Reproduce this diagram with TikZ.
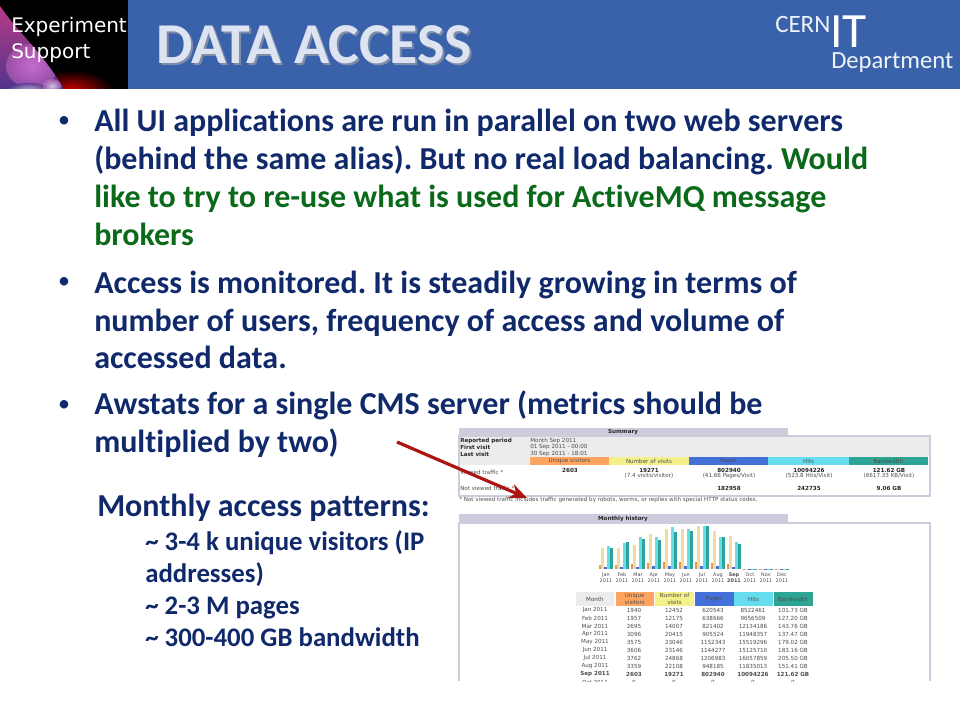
\documentclass[tikz,border=0pt]{standalone}
\usepackage{fontspec}
\setmainfont[Ligatures=NoCommon]{Carlito}
\newfontfamily\webfont{DejaVu Sans}
\newfontfamily\tagfont{DejaVu Sans}
\usepackage{tikz}
\usetikzlibrary{calc,arrows.meta}
\definecolor{headblue}{HTML}{3A62AB}
\definecolor{bodynavy}{HTML}{10296B}
\definecolor{bodygreen}{HTML}{0B6A1A}
\definecolor{arrowred}{HTML}{AD1414}
\definecolor{titlefill}{HTML}{DDE3F0}
\definecolor{titleshade}{HTML}{7F8CA8}
\definecolor{awborder}{HTML}{CCCCDD}
\definecolor{awgray}{HTML}{ECECEC}
\definecolor{awu}{HTML}{FFA560}
\definecolor{awv}{HTML}{F4F08C}
\definecolor{awp}{HTML}{4470DA}
\definecolor{awh}{HTML}{66DDEE}
\definecolor{awk}{HTML}{2EA495}
\definecolor{barv}{HTML}{EFDF9C}
\definecolor{glowtop}{HTML}{B83A86}
\definecolor{glowmid}{HTML}{B860B8}
\definecolor{glowlow}{HTML}{50358C}
\newcommand{\webfs}{\fontsize{4.2}{5}\selectfont}
\newcommand{\barfs}{\fontsize{3.7}{5}\selectfont}
\tikzset{
  bodyline/.style={anchor=base west,inner sep=0pt,text=bodynavy,font=\bfseries\fontsize{24}{28}\selectfont},
  bodybullet/.style={anchor=base,inner sep=0pt,text=bodynavy,font=\fontsize{18}{24}\selectfont},
  subline/.style={anchor=base west,inner sep=0pt,text=bodynavy,font=\bfseries\fontsize{20.1}{24}\selectfont},
  webtext/.style={inner sep=0pt,text=black!70,font=\webfont\webfs},
  webbold/.style={webtext,text=black!85,font=\webfont\bfseries\webfs},
}
\begin{document}
\frenchspacing
\begin{tikzpicture}[x=0.75pt,y=-0.75pt]
  \useasboundingbox (0,0) rectangle (960,720);
  % header band
  \fill[headblue] (0,0) rectangle (960,89);
  \fill[black] (0,0) rectangle (128,89);
  \begin{scope}
    \clip (0,0) rectangle (128,89);
    \shade[inner color=red!80!black,outer color=black] (72,90) ellipse (42 and 20);
    \shade[top color=glowtop,middle color=glowmid,bottom color=glowlow]
      (0,6) .. controls (16,30) and (42,52) .. (64,89) -- (0,89) -- cycle;
    \begin{scope}
      \clip (0,6) .. controls (16,30) and (42,52) .. (64,89) -- (0,89) -- cycle;
      \shade[inner color=magenta!45!white,outer color=glowmid,opacity=0.6] (32,66) ellipse (26 and 22);
    \end{scope}
    \shade[inner color=white,outer color=glowlow,opacity=0.75] (28,92) ellipse (24 and 9);
    \shade[inner color=white,outer color=glowmid,opacity=0.7] (52,86) ellipse (9 and 7);
  \end{scope}
  \node[anchor=base west,inner sep=0pt,text=white,font=\tagfont\fontsize{15}{18}\selectfont] (tagA) at (11,33) {Experiment};
  \node[anchor=base west,inner sep=0pt,text=white,font=\tagfont\fontsize{15}{18}\selectfont] (tagB) at (11,59) {Support};
  \node[anchor=base west,inner sep=0pt,text=titlefill,font=\bfseries\fontsize{43.4}{48}\selectfont] (title) at (156,64)
    {\rlap{\raisebox{-1.5pt}{\hspace{1.5pt}\textcolor{titleshade}{DATA ACCESS}}}DATA ACCESS};
  % logo
  \node[anchor=base west,inner sep=0pt,text=white!92!headblue,font=\fontsize{18.7}{20}\selectfont] (logoCern) at (775,33) {CERN};
  \node[anchor=base west,inner sep=0pt,text depth=0pt,text=white,font=\fontsize{37}{40}\selectfont] (logoIt) at (830,48) {IT};
  \node[anchor=base west,inner sep=0pt,text height=10pt,text=white!92!headblue,font=\fontsize{18.5}{20}\selectfont] (logoDept) at (831,69) {Department};
  % body
  \node[bodybullet] (dotA) at (64,128) {\textbullet};
  \node[bodyline] (lineA) at (94,132) {All UI applications are run in parallel on two web servers};
  \node[bodyline] (lineB) at (94,170) {(behind the same alias). But no real load balancing. \textcolor{bodygreen}{Would}};
  \node[bodyline,text=bodygreen] (lineC) at (94,208) {like to try to re-use what is used for ActiveMQ message};
  \node[bodyline,text=bodygreen] (lineD) at (94,246) {brokers};
  \node[bodybullet] (dotB) at (64,289) {\textbullet};
  \node[bodyline] (lineE) at (94,293) {Access is monitored. It is steadily growing in terms of};
  \node[bodyline] (lineF) at (94,331) {number of users, frequency of access and volume of};
  \node[bodyline] (lineG) at (94,368.5) {accessed data.};
  \node[bodybullet] (dotC) at (64,411) {\textbullet};
  \node[bodyline] (lineH) at (94,414) {Awstats for a single CMS server (metrics should be};
  \node[bodyline] (lineI) at (94,452) {multiplied by two)};
  \node[bodyline] (patterns) at (97,516) {Monthly access patterns:};
  \node[subline] (subA) at (145,550) {\textasciitilde{} 3-4 k unique visitors (IP};
  \node[subline] (subB) at (145,582) {addresses)};
  \node[subline] (subC) at (145,614) {\textasciitilde{} 2-3 M pages};
  \node[subline] (subD) at (145,646) {\textasciitilde{} 300-400 GB bandwidth};
  % summary panel
  \fill[awborder] (459,428) rectangle (788,436);
  \fill[awgray] (459,436) rectangle (930,457);
  \fill[awgray] (459,457) rectangle (530,465);
  \draw[awborder,line width=0.9pt] (459,436) rectangle (930,496);
  \node[webbold] (sumTitle) at (623,432) {Summary};
  \foreach \lab/\val/\yy [count=\n] in {Reported period/Month Sep 2011/441,First visit/01 Sep 2011 - 00:00/447.5,Last visit/30 Sep 2011 - 18:01/454}{
    \node[webbold,anchor=west] (sumLab\n) at (460,\yy) {\lab};
    \node[webtext,anchor=west] (sumVal\n) at (530,\yy) {\val};
  }
  \foreach \xa/\xb/\col/\txt [count=\n] in {530/609/awu/Unique visitors,609/689/awv/Number of visits,689/768/awp/Pages,768/849/awh/Hits,849/928/awk/Bandwidth}{
    \fill[\col] (\xa,457) rectangle (\xb,465);
    \node[webtext] (sumHead\n) at ({(\xa+\xb)/2},461) {\txt};
  }
  \node[webtext,anchor=west] (viewedLab) at (460,472) {Viewed traffic *};
  \node[webtext,anchor=west] (notviewedLab) at (460,488) {Not viewed traffic *};
  \node[webbold] (valU) at (570,470) {2603};
  \node[webbold] (valV) at (649,470) {19271};
  \node[webtext] (subV) at (649,476) {(7.4 visits/visitor)};
  \node[webbold] (valP) at (729,470) {802940};
  \node[webtext] (subP) at (729,476) {(41.66 Pages/Visit)};
  \node[webbold] (valH) at (809,470) {10094226};
  \node[webtext] (subH) at (809,476) {(523.8 Hits/Visit)};
  \node[webbold] (valK) at (889,470) {121.62 GB};
  \node[webtext] (subK) at (889,476) {(6617.33 KB/Visit)};
  \node[webbold] (notP) at (729,488) {182958};
  \node[webbold] (notH) at (809,488) {242735};
  \node[webbold] (notK) at (889,488) {9.06 GB};
  \node[webtext,anchor=west] (footnote) at (459,499.5) {* Not viewed traffic includes traffic generated by robots, worms, or replies with special HTTP status codes.};
  % monthly history panel
  \fill[awborder] (459,514) rectangle (788,523);
  \draw[awborder,line width=0.9pt] (459,681) -- (459,523) -- (930,523) -- (930,681);
  \node[webbold] (histTitle) at (623,518.5) {Monthly history};
  \foreach \mon/\hu/\hv/\hp/\hh/\hk/\mfont [count=\i from 0] in {
    Jan/3.6/21.5/1.8/22.8/21.3/\mdseries,
    Feb/3.6/21/1.9/25.9/26.6/\mdseries,
    Mar/5/24.2/2.4/32.5/30.1/\mdseries,
    Apr/5.8/35.3/2.6/32/28.8/\mdseries,
    May/6.7/39.9/3.3/41.6/37.5/\mdseries,
    Jun/6.7/40/3.3/40.5/38.3/\mdseries,
    Jul/7/43/3.5/43/43/\mdseries,
    Aug/6.3/38.2/2.7/31.7/31.7/\mdseries,
    Sep/4.8/33.3/2.3/27/25.4/\bfseries,
    Oct/0.4/0.4/0.4/0.4/0.4/\mdseries,
    Nov/0.4/0.4/0.4/0.4/0.4/\mdseries,
    Dec/0.4/0.4/0.4/0.4/0.4/\mdseries}{
    \pgfmathsetmacro\cx{606+16*\i}
    \fill[awu!90!black] ({\cx-7.4},569) rectangle ({\cx-4.4},{569-\hu});
    \fill[barv] ({\cx-4.6},569) rectangle ({\cx-1.8},{569-\hv});
    \fill[awp] ({\cx-1.8},569) rectangle ({\cx+1},{569-\hp});
    \fill[awh] ({\cx+1},569) rectangle ({\cx+3.8},{569-\hh});
    \fill[awk] ({\cx+3.6},569) rectangle ({\cx+6.6},{569-\hk});
    \node[webtext,font=\webfont\mfont\barfs] (mon\i) at (\cx,575) {\mon};
    \node[webtext,font=\webfont\mfont\barfs] (yr\i) at (\cx,581) {2011};
  }
  % month table
  \foreach \xa/\xb/\col/\txt [count=\n] in {576/614/awgray/Month,615.5/654/awu/Unique\\visitors,655/694/awv/Number of\\visits,694.5/733.5/awp/Pages,734/773/awh/Hits,773.5/812.5/awk/Bandwidth}{
    \fill[\col] (\xa,592) rectangle (\xb,606);
    \node[webtext,align=center] (monHead\n) at ({(\xa+\xb)/2},599) {\txt};
  }
  \begin{scope}
    \clip (459,606) rectangle (930,681);
    \foreach \mon/\uu/\vv/\pp/\hh/\kk/\mfont [count=\i from 0] in {
      Jan 2011/1940/12452/620543/8522461/101.73 GB/\mdseries,
      Feb 2011/1957/12175/638666/9656509/127.20 GB/\mdseries,
      Mar 2011/2695/14007/821402/12134186/143.76 GB/\mdseries,
      Apr 2011/3096/20415/905524/11948357/137.47 GB/\mdseries,
      May 2011/3575/23046/1152343/15519296/179.02 GB/\mdseries,
      Jun 2011/3606/23146/1144277/15125710/183.16 GB/\mdseries,
      Jul 2011/3762/24868/1206983/16057859/205.50 GB/\mdseries,
      Aug 2011/3359/22108/948185/11835013/151.41 GB/\mdseries,
      Sep 2011/2603/19271/802940/10094226/121.62 GB/\bfseries,
      Oct 2011/0/0/0/0/0/\mdseries}{
      \pgfmathsetmacro\ry{610+8*\i}
      \tikzset{rowcell/.style={webtext,font=\webfont\mfont\webfs}}
      \node[rowcell] (rowM\i) at (595,\ry) {\mon};
      \node[rowcell] (rowU\i) at (634,\ry) {\uu};
      \node[rowcell] (rowV\i) at (674,\ry) {\vv};
      \node[rowcell] (rowP\i) at (713,\ry) {\pp};
      \node[rowcell] (rowH\i) at (753,\ry) {\hh};
      \node[rowcell] (rowK\i) at (793,\ry) {\kk};
    }
  \end{scope}
  % arrow
  \coordinate (arrowFrom) at (397,442);
  \coordinate (arrowTo) at (527,498);
  \draw[arrowred,line width=2.4pt,-{Stealth[length=13pt,width=11pt]}] (arrowFrom) -- (arrowTo);
\end{tikzpicture}
\end{document}
